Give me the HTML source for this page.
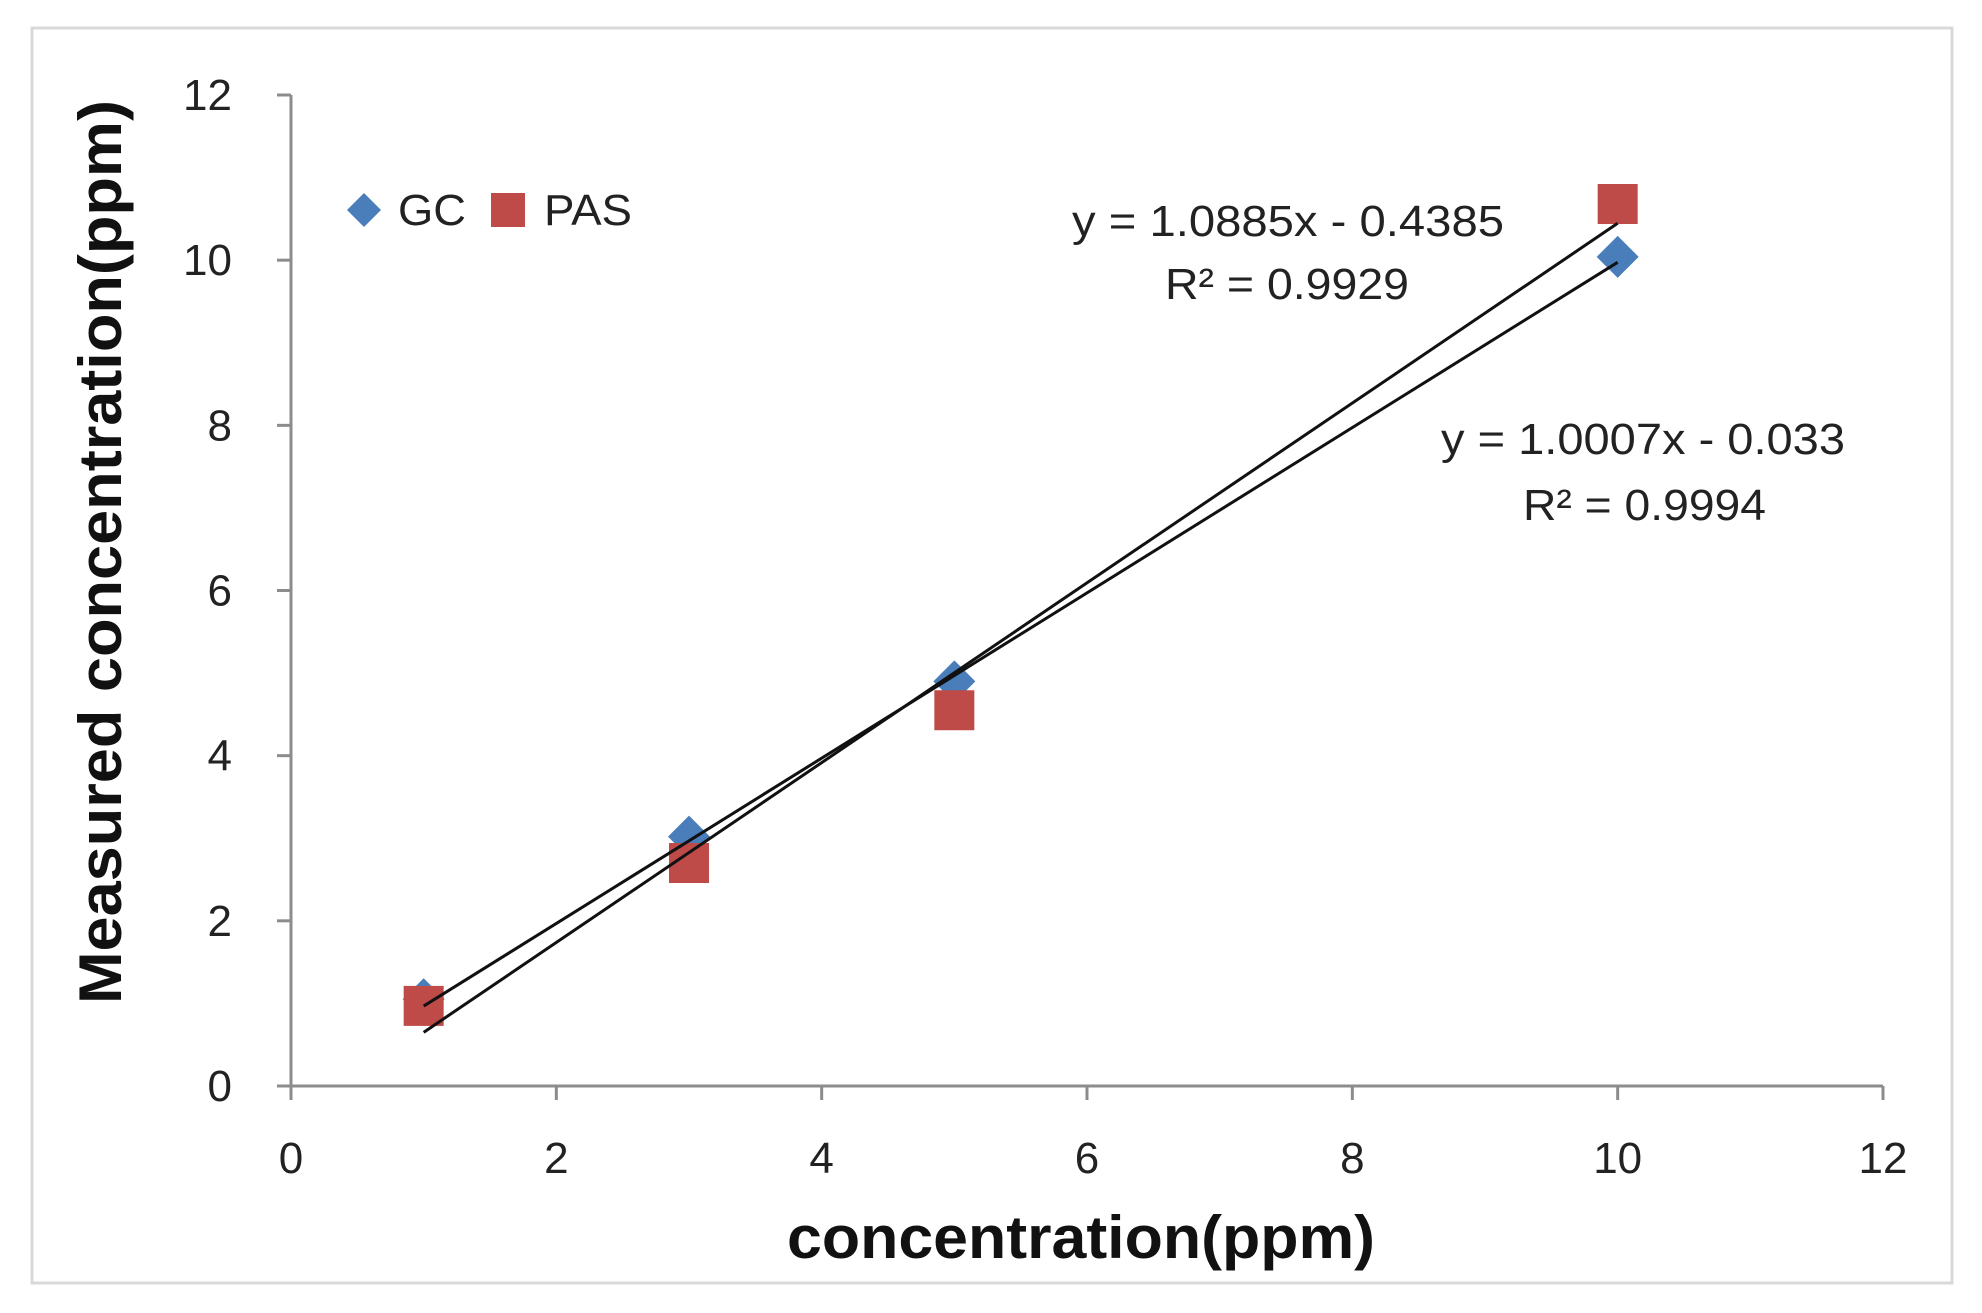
<!DOCTYPE html>
<html><head><meta charset="utf-8"><style>
html,body{margin:0;padding:0;background:#fff;}
svg{display:block;font-family:"Liberation Sans",sans-serif;}
</style></head><body>
<svg id="chart" width="1982" height="1313" viewBox="0 0 1982 1313">
<rect x="32" y="28" width="1920" height="1255" fill="#fff" stroke="#d9d9d9" stroke-width="3"/>
<g id="axes"></g>
<g id="trends"></g>
<g id="marks"></g>
<g>
<path d="M364 193 L381 210 L364 227 L347 210 Z" fill="#4a7ebb"/>
<text x="398" y="225" font-size="44" fill="#222" textLength="68" lengthAdjust="spacingAndGlyphs">GC</text>
<rect x="491" y="193" width="34" height="34" fill="#be4b48"/>
<text x="544" y="225" font-size="44" fill="#222" textLength="88" lengthAdjust="spacingAndGlyphs">PAS</text>
</g>
<text x="1072" y="236" font-size="44" fill="#222" textLength="432" lengthAdjust="spacingAndGlyphs">y = 1.0885x - 0.4385</text>
<text x="1165" y="299" font-size="44" fill="#222" textLength="244" lengthAdjust="spacingAndGlyphs">R² = 0.9929</text>
<text x="1441" y="454" font-size="44" fill="#222" textLength="404" lengthAdjust="spacingAndGlyphs">y = 1.0007x - 0.033</text>
<text x="1523" y="520" font-size="44" fill="#222" textLength="243" lengthAdjust="spacingAndGlyphs">R² = 0.9994</text>
<text x="1081" y="1258" font-size="60" font-weight="bold" text-anchor="middle" fill="#111" textLength="588" lengthAdjust="spacingAndGlyphs">concentration(ppm)</text>
<text transform="translate(121,552) rotate(-90)" font-size="60" font-weight="bold" text-anchor="middle" fill="#111" textLength="904" lengthAdjust="spacingAndGlyphs">Measured concentration(ppm)</text>
</svg>
<script>
const xTicks = [0, 2, 4, 6, 8, 10, 12];
const yTicks = [0, 2, 4, 6, 8, 10, 12];
const xValues = [1, 3, 5, 10];
const gcValues = [1.05, 3.02, 4.9, 10.04];
const pasValues = [0.97, 2.7, 4.55, 10.68];
const gcFit = [1.0007, -0.033];
const pasFit = [1.0885, -0.4385];

const NS = 'http://www.w3.org/2000/svg';
const X0 = 291, X1 = 1883, Y0 = 1086, Y1 = 95;
function sx(v){ return X0 + (v - 0) / 12 * (X1 - X0); }
function sy(v){ return Y0 - (v - 0) / 12 * (Y0 - Y1); }
function mk(tag, attrs, parent){
  const e = document.createElementNS(NS, tag);
  for (const k in attrs) e.setAttribute(k, attrs[k]);
  parent.appendChild(e);
  return e;
}
const axes = document.getElementById('axes');
let yl = mk('line', {x1:X0, y1:Y0, x2:X0, y2:Y1, stroke:'#8c8c8c', 'stroke-width':3}, axes);


let xl = mk('line', {x1:X0-14, y1:Y0, x2:X1, y2:Y0, stroke:'#8c8c8c', 'stroke-width':3}, axes);


yTicks.forEach(v => {
  const t = mk('line', {x1:X0-14, y1:sy(v), x2:X0, y2:sy(v), stroke:'#8c8c8c', 'stroke-width':3}, axes);
  
  
  const l = mk('text', {x:232, y:sy(v)+15, 'font-size':44, 'text-anchor':'end', fill:'#222'}, axes);
  l.textContent = v;
  
  
});
xTicks.forEach(v => {
  const t = mk('line', {x1:sx(v), y1:Y0, x2:sx(v), y2:Y0+14, stroke:'#8c8c8c', 'stroke-width':3}, axes);
  
  
  const l = mk('text', {x:sx(v), y:1173, 'font-size':44, 'text-anchor':'middle', fill:'#222'}, axes);
  l.textContent = v;
  
  
});
const marks = document.getElementById('marks');
xValues.forEach((x, i) => {
  const cx = sx(x), cy = sy(gcValues[i]);
  const d = mk('path', {d:`M${cx} ${cy-21} L${cx+21} ${cy} L${cx} ${cy+21} L${cx-21} ${cy} Z`, fill:'#4a7ebb'}, marks);
  
  
});
xValues.forEach((x, i) => {
  const cx = sx(x), cy = sy(pasValues[i]);
  const r = mk('rect', {x:cx-20, y:cy-20, width:40, height:40, fill:'#be4b48'}, marks);
  
  
});
const xa = xValues[0], xb = xValues[xValues.length-1];
const g1 = mk('line', {x1:sx(xa), y1:sy(gcFit[0]*xa+gcFit[1]), x2:sx(xb), y2:sy(gcFit[0]*xb+gcFit[1]), stroke:'#111', 'stroke-width':3}, document.getElementById('chart'));


const p1 = mk('line', {x1:sx(xa), y1:sy(pasFit[0]*xa+pasFit[1]), x2:sx(xb), y2:sy(pasFit[0]*xb+pasFit[1]), stroke:'#111', 'stroke-width':3}, document.getElementById('chart'));


</script>
</body></html>
